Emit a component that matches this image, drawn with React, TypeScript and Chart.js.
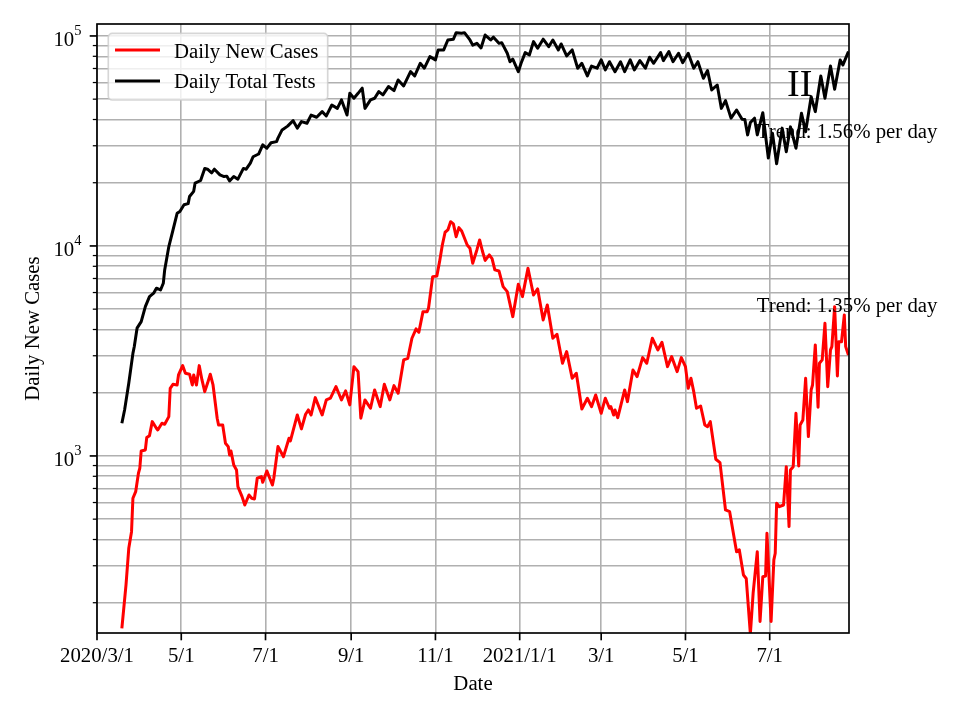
import React, { useEffect, useRef } from "react";
import { Chart, registerables } from "chart.js";

Chart.register(...registerables);

// Days are counted from 2020-03-01 (day 0)
const testDays = [
  18, 20, 23, 26, 27, 29, 32, 35, 38, 41,
  43, 46, 48, 49, 52, 55, 58, 60, 63, 66,
  67, 70, 71, 75, 78, 80, 83, 85, 89, 92,
  94, 96, 99, 102, 106, 108, 111, 113, 117, 120,
  123, 126, 130, 131, 134, 138, 142, 145, 148, 152,
  155, 159, 163, 166, 170, 174, 177, 181, 183, 186,
  189, 192, 194, 198, 201, 204, 207, 211, 215, 218,
  222, 227, 230, 234, 237, 241, 245, 247, 251, 254,
  258, 260, 264, 266, 270, 272, 275, 278, 281, 285,
  287, 291, 293, 297, 299, 301, 305, 307, 310, 313,
  316, 319, 323, 327, 330, 334, 336, 340, 344, 348,
  351, 355, 358, 362, 365, 368, 371, 375, 379, 382,
  386, 389, 393, 397, 400, 403, 408, 410, 414, 417,
  421, 424, 428, 432, 435, 439, 442, 445, 449, 452,
  455, 459, 463, 467, 469, 471, 473, 476, 478, 482,
  486, 489, 492, 496, 499, 502, 506, 510, 513, 517,
  520, 524, 527, 531, 534, 538, 540, 544,
];
const testValues = [
  1430, 1660, 2220, 3080, 3320, 4060, 4360, 5140, 5740, 5960,
  6290, 6170, 6640, 7690, 9930, 11900, 14300, 14600, 15700, 15900,
  17200, 18200, 19900, 20500, 23400, 23200, 22300, 23200, 21800, 21400,
  21500, 20400, 21400, 20800, 23400, 23200, 24800, 26600, 27400, 30300,
  29200, 31000, 31400, 32600, 35700, 37200, 39500, 36400, 39100, 38400,
  42000, 41000, 43600, 41600, 46900, 45200, 49600, 42000, 53300, 50500,
  53300, 56400, 45200, 49600, 50500, 54300, 52400, 57400, 54900, 61700,
  57800, 67600, 64500, 74100, 70200, 79700, 76900, 85800, 85800, 95700,
  96400, 103700, 103000, 103700, 95700, 90400, 92200, 87700, 101000, 95700,
  98700, 92200, 92900, 82700, 75400, 77500, 67600, 74100, 83300, 81200,
  94000, 87400, 96500, 88900, 95700, 85800, 91600, 80300, 85800, 70200,
  74100, 64500, 71900, 70200, 76900, 68900, 75400, 67600, 75400, 67600,
  76900, 68900, 76300, 70200, 79200, 74100, 83300, 76300, 84200, 75400,
  82700, 74600, 82700, 70200, 75400, 62900, 68400, 55300, 58400, 45200,
  49200, 40600, 44400, 40100, 40000, 33800, 38700, 40600, 33800, 43100,
  26200, 34400, 24600, 36400, 28100, 36900, 29200, 42800, 35000, 51400,
  43600, 64500, 50500, 71900, 55700, 76900, 72800, 84200,
];

const caseDays = [
  18, 21, 23, 25, 26, 28, 30, 31, 32, 35,
  36, 38, 40, 43, 44, 47, 49, 52, 53, 55,
  58, 59, 62, 64, 67, 69, 70, 72, 74, 76,
  78, 80, 82, 84, 87, 88, 91, 93, 95, 96,
  97, 99, 101, 102, 105, 107, 110, 112, 114, 116,
  119, 120, 123, 127, 128, 131, 135, 139, 140, 145,
  148, 151, 153, 155, 158, 163, 166, 169, 173, 175,
  177, 180, 183, 186, 189, 191, 194, 198, 201, 205,
  208, 212, 215, 218, 222, 225, 228, 231, 233, 236,
  239, 240, 243, 246, 248, 250, 252, 254, 256, 258,
  260, 262, 264, 268, 270, 272, 275, 277, 279, 281,
  284, 286, 288, 291, 294, 297, 301, 305, 308, 312,
  316, 319, 323, 326, 330, 333, 337, 340, 344, 347,
  351, 355, 358, 361, 365, 368, 371, 372, 374, 375,
  377, 382, 384, 388, 391, 395, 398, 402, 406, 409,
  413, 416, 420, 423, 426, 428, 430, 432, 434, 437,
  440, 442, 444, 448, 451, 455, 458, 463, 465, 468,
  470, 473, 475, 478, 480, 482, 484, 485, 488, 490,
  491, 492, 494, 497, 499, 501, 502, 504, 506, 508,
  509, 511, 513, 515, 517, 518, 520, 522, 523, 525,
  527, 529, 531, 532, 534, 536, 537, 539, 541, 542, 544,
];
const caseValues = [
  151, 243, 363, 436, 629, 676, 827, 874, 1056, 1068,
  1223, 1249, 1457, 1355, 1330, 1431, 1415, 1539, 2100, 2194,
  2177, 2431, 2692, 2477, 2450, 2177, 2431, 2177, 2692, 2301,
  2024, 2217, 2450, 2177, 1512, 1405, 1405, 1150, 1108, 1011,
  1056, 906, 858, 714, 640, 584, 652, 629, 624, 783,
  797, 749, 848, 727, 783, 1108, 992, 1214, 1179, 1567,
  1345, 1580, 1656, 1567, 1896, 1567, 1848, 1883, 2138, 1989,
  1848, 2040, 1750, 2662, 2520, 1512, 1848, 1687, 2062, 1717,
  2194, 1848, 2162, 1989, 2866, 2918, 3635, 4026, 3881, 4866,
  4866, 5049, 7143, 7183, 8420, 10110, 11620, 11920, 13050, 12740,
  11070, 12220, 11790, 10110, 9750, 8270, 9570, 10680, 9460, 8530,
  9060, 8700, 7690, 7600, 6400, 6060, 4606, 6570, 5737, 7830,
  5843, 6240, 4443, 5236, 3635, 3797, 2763, 3139, 2344, 2477,
  1674, 1883, 1717, 1952, 1597, 1883, 1687, 1717, 1567, 1656,
  1522, 2062, 1814, 2568, 2387, 2938, 2763, 3635, 3197, 3477,
  2662, 2971, 2520, 2938, 2662, 2100, 2344, 2024, 1687, 1730,
  1405, 1379, 1457, 964, 930, 553, 543, 350, 357, 271,
  261, 142, 222, 350, 163, 266, 268, 428, 163, 320,
  344, 595, 573, 584, 889, 461, 858, 889, 1597, 896,
  1405, 1484, 2344, 1236, 2062, 2177, 3378, 1705, 2763, 2866,
  4285, 2138, 3197, 3315, 5140, 2404, 3497, 3497, 4693, 3315, 3025,
];

const tickDays = [0, 61, 122, 184, 245, 306, 365, 426, 487];
const tickLabels = ["2020/3/1", "5/1", "7/1", "9/1", "11/1", "2021/1/1", "3/1", "5/1", "7/1"];
const seriesNames = ["Daily New Cases", "Daily Total Tests"];
const seriesColors = ["#ff0000", "#000000"];
const annotationTexts = ["II", "Trend: 1.56% per day", "Trend: 1.35% per day"];
const annotationDays = [499.5, 477.7, 477.7];
const annotationValues = [51960, 32680, 4850];
const annotationSizes = [38, 20.8, 20.8];

const X_MIN = 0;
const X_MAX = 544.4;
const Y_MIN = 143.5;
const Y_MAX = 114000;
const FONT = '"Liberation Serif", "Times New Roman", Times, serif';

function yTickValues(): number[] {
  const out: number[] = [];
  for (let e = 2; e <= 5; e++) {
    for (let m = 1; m <= 9; m++) {
      const v = m * Math.pow(10, e);
      if (v >= Y_MIN && v <= Y_MAX) out.push(v);
    }
  }
  return out;
}

function seg(ctx: CanvasRenderingContext2D, x1: number, y1: number, x2: number, y2: number) {
  ctx.beginPath();
  ctx.moveTo(x1, y1);
  ctx.lineTo(x2, y2);
  ctx.stroke();
}

const overlayPlugin = {
  id: "mplOverlay",
  afterDatasetsDraw(chart: any) {
    const ctx: CanvasRenderingContext2D = chart.ctx;
    const a = chart.chartArea;
    const xs = chart.scales.x;
    const ys = chart.scales.y;
    ctx.save();
    ctx.fillStyle = "#000";
    ctx.strokeStyle = "#000";
    ctx.lineCap = "butt";

    // annotations
    ctx.textBaseline = "alphabetic";
    ctx.textAlign = "left";
    annotationTexts.forEach((t, i) => {
      ctx.font = `${annotationSizes[i]}px ${FONT}`;
      ctx.fillText(t, xs.getPixelForValue(annotationDays[i]), ys.getPixelForValue(annotationValues[i]));
    });

    // spines
    ctx.lineWidth = 1.67;
    ctx.strokeRect(a.left, a.top, a.right - a.left, a.bottom - a.top);

    // x ticks and labels
    ctx.font = `20.8px ${FONT}`;
    ctx.textAlign = "center";
    tickDays.forEach((d, i) => {
      const px = xs.getPixelForValue(d);
      ctx.lineWidth = 1.67;
      seg(ctx, px, a.bottom, px, a.bottom + 7.3);
      ctx.fillText(tickLabels[i], px, a.bottom + 29);
    });

    // y ticks and labels
    yTickValues().forEach((v) => {
      const py = ys.getPixelForValue(v);
      const exp = Math.log10(v);
      const major = Math.abs(exp - Math.round(exp)) < 1e-9;
      ctx.lineWidth = major ? 1.67 : 1.25;
      const len = major ? 7.3 : 4.2;
      seg(ctx, a.left - len, py, a.left, py);
      if (major) {
        const e = String(Math.round(exp));
        ctx.font = `14.5px ${FONT}`;
        const sw = ctx.measureText(e).width;
        const right = a.left - 15.5;
        ctx.textAlign = "left";
        ctx.fillText(e, right - sw, py - 1);
        ctx.font = `20.8px ${FONT}`;
        ctx.textAlign = "right";
        ctx.fillText("10", right - sw, py + 10.5);
      }
    });

    // axis titles
    ctx.font = `20.8px ${FONT}`;
    ctx.textAlign = "center";
    ctx.fillText("Date", (a.left + a.right) / 2, a.bottom + 57);
    ctx.save();
    ctx.translate(38.5, (a.top + a.bottom) / 2);
    ctx.rotate(-Math.PI / 2);
    ctx.fillText("Daily New Cases", 0, 0);
    ctx.restore();

    // legend
    const lx = a.left + 11.3;
    const ly = a.top + 9.3;
    ctx.beginPath();
    (ctx as any).roundRect(lx, ly, 219.4, 66.7, 4);
    ctx.fillStyle = "rgba(255,255,255,0.8)";
    ctx.fill();
    ctx.strokeStyle = "rgba(204,204,204,0.8)";
    ctx.lineWidth = 1.67;
    ctx.stroke();
    const handleY = [a.top + 26, a.top + 57];
    const textY = [a.top + 34.3, a.top + 64.4];
    seriesNames.forEach((name, i) => {
      ctx.strokeStyle = seriesColors[i];
      ctx.lineWidth = 3;
      seg(ctx, a.left + 18, handleY[i], a.left + 63, handleY[i]);
      ctx.fillStyle = "#000";
      ctx.font = `20.8px ${FONT}`;
      ctx.textAlign = "left";
      ctx.fillText(name, a.left + 77, textY[i]);
    });

    ctx.restore();
  },
};

export default function App() {
  const ref = useRef<HTMLCanvasElement>(null);
  useEffect(() => {
    document.body.style.margin = "0";
    const canvas = ref.current!;
    const chart = new Chart(canvas, {
      type: "line",
      data: {
        datasets: [
          {
            label: seriesNames[0],
            data: caseDays.map((d, i) => ({ x: d, y: caseValues[i] })),
            borderColor: seriesColors[0],
            backgroundColor: seriesColors[0],
          },
          {
            label: seriesNames[1],
            data: testDays.map((d, i) => ({ x: d, y: testValues[i] })),
            borderColor: seriesColors[1],
            backgroundColor: seriesColors[1],
          },
        ],
      },
      options: {
        responsive: false,
        animation: false,
        devicePixelRatio: 1,
        events: [],
        layout: { padding: { left: 0, top: 24, right: 111, bottom: 0 } },
        plugins: { legend: { display: false }, tooltip: { enabled: false } },
        elements: {
          point: { radius: 0 },
          line: { tension: 0, borderWidth: 3, borderJoinStyle: "round", borderCapStyle: "butt" },
        },
        scales: {
          x: {
            type: "linear",
            min: X_MIN,
            max: X_MAX,
            bounds: "data",
            afterBuildTicks: (s: any) => {
              s.ticks = tickDays.map((v) => ({ value: v }));
            },
            afterFit: (s: any) => {
              s.height = 87;
            },
            ticks: { display: false },
            border: { display: false },
            grid: { color: "#b0b0b0", lineWidth: 1.6, drawTicks: false },
          },
          y: {
            type: "logarithmic",
            min: Y_MIN,
            max: Y_MAX,
            bounds: "data",
            afterBuildTicks: (s: any) => {
              s.ticks = yTickValues().map((v) => ({ value: v }));
            },
            afterFit: (s: any) => {
              s.width = 97;
            },
            ticks: { display: false },
            border: { display: false },
            grid: { color: "#b0b0b0", lineWidth: 1.6, drawTicks: false },
          },
        },
      } as any,
      plugins: [overlayPlugin],
    });
    return () => chart.destroy();
  }, []);
  return (
    <div style={{ width: 960, height: 720 }}>
      <canvas ref={ref} width={960} height={720} style={{ display: "block", width: 960, height: 720 }} />
    </div>
  );
}
